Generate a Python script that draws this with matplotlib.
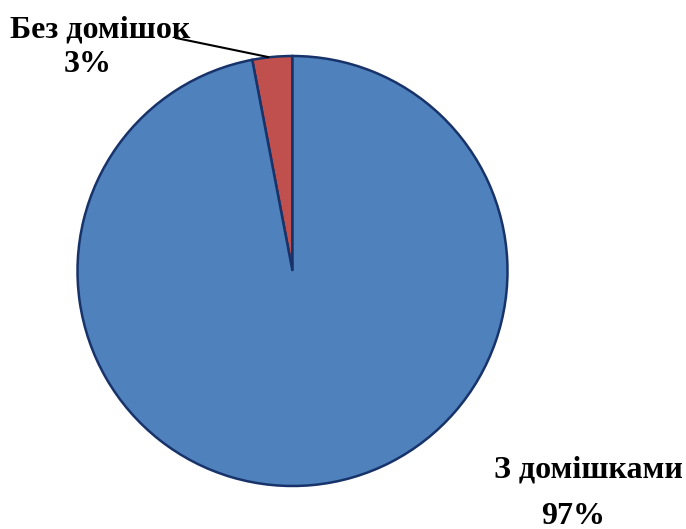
import matplotlib.pyplot as plt

categories = ["Без домішок", "З домішками"]
shares = [3, 97]
colors = ["#C0504D", "#4F81BD"]

W, H = 686, 529
fig = plt.figure(figsize=(W / 100, H / 100), dpi=100)
ax = fig.add_axes([0, 0, 1, 1])
ax.set_xlim(0, W)
ax.set_ylim(0, H)
ax.axis("off")

cx, cy, r = 292.5, H - 271, 215
ax.pie(shares, colors=colors, startangle=90, counterclock=True,
       center=(cx, cy), radius=r,
       wedgeprops=dict(edgecolor="#17336A", linewidth=1.8))
ax.set_xlim(0, W)
ax.set_ylim(0, H)
ax.set_aspect("auto")

font = dict(family="Liberation Serif", fontweight="bold", fontsize=23, color="black")

# label for the small slice with a leader line
ax.text(100, H - 30, categories[0], ha="center", va="center", **font)
ax.text(88, H - 64, f"{shares[0]}%", ha="center", va="center", **font)
ax.plot([176, 268], [H - 38, H - 57], color="black", linewidth=1.5)

# label for the large slice
ax.text(588, H - 470, categories[1], ha="center", va="center", **font)
ax.text(573, H - 516, f"{shares[1]}%", ha="center", va="center", **font)

fig.savefig("out.png", dpi=100, facecolor="white")
